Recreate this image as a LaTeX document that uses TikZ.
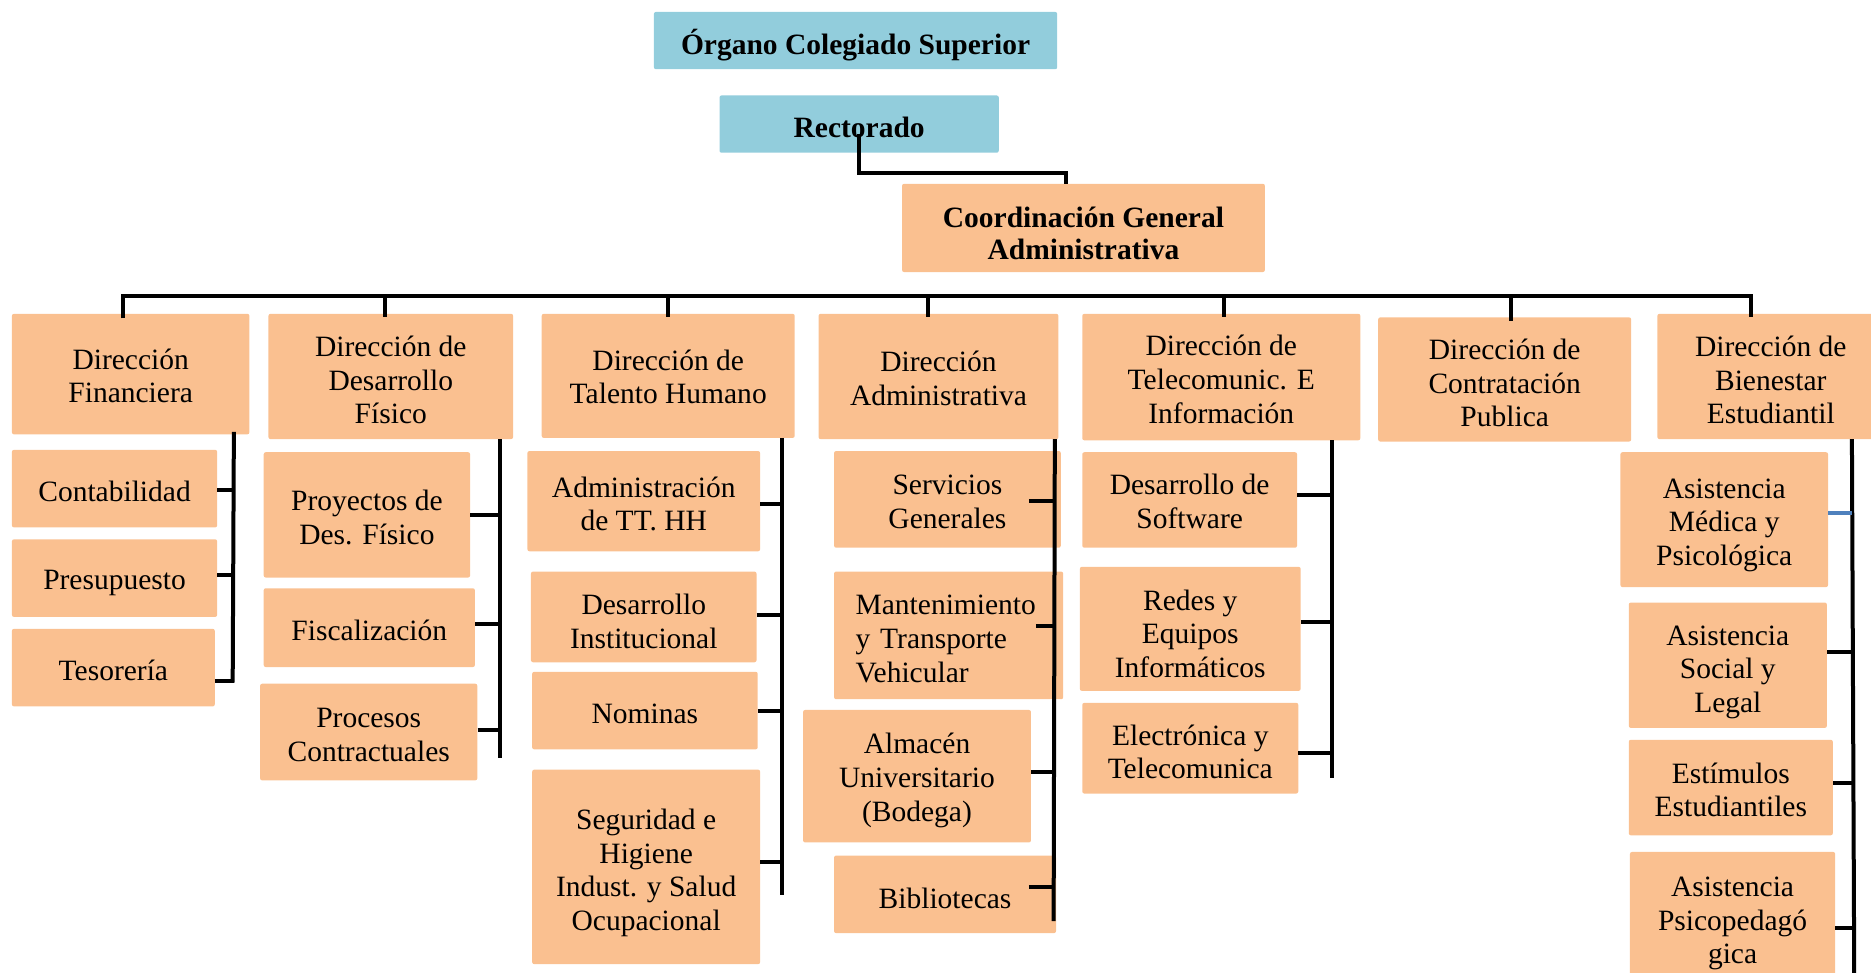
\documentclass[tikz,border=0pt]{standalone}
\usepackage{fontspec}
\setmainfont{Liberation Serif}
\definecolor{boxorange}{HTML}{FAC090}
\definecolor{boxblue}{HTML}{92CDDC}
\definecolor{linkblue}{HTML}{4F81BD}
\newdimen\unitpx \unitpx=1.1932pt
\tikzset{
  unitbox/.style={rectangle, rounded corners=2pt, inner sep=0pt},
  orangebox/.style={unitbox, fill=boxorange},
  bluebox/.style={unitbox, fill=boxblue},
  boxtext/.style={inner sep=0pt, align=center, text=black,
    font=\fontsize{29.5}{33.6}\selectfont},
  boldtext/.style={boxtext, font=\fontsize{29.5}{32.5}\selectfont\bfseries},
  conn/.style={line width=4pt, draw=black},
}
% box from its corners, with its text lowered by dy:
% [text options]{name}{x1}{y1}{x2}{y2}{text}{dy}
\newcommand\obox[8][]{%
  \node[orangebox, minimum width={(#5-#3)*\unitpx}, minimum height={(#6-#4)*\unitpx}]
    (#2) at ({(#3+#5)/2},{(#4+#6)/2}) {};
  \node[boxtext, #1] (#2-t) at ([yshift={-(#8)*\unitpx}]#2.center) {#7};}
% tick from a box to its spine: [style]{node}{dy}{dx}{spine}
\newcommand\tick[5][]{%
  \coordinate (tk) at ([xshift={(#4)*\unitpx}, yshift={-(#3)*\unitpx}]#2.east);
  \draw[conn,#1] (tk) -- (tk -| #5);}

\begin{document}
\begin{tikzpicture}[x=1.1932pt, y=-1.1932pt]
\useasboundingbox (0,0) rectangle (1568,815);

% top levels
\node[bluebox, minimum width={338*\unitpx}, minimum height={48*\unitpx}] (org) at (717,34) {};
\node[boldtext] (org-t) at (717,38) {Órgano Colegiado Superior};
\node[bluebox, minimum width={234*\unitpx}, minimum height={48*\unitpx}] (rect) at (720,104) {};
\node[boldtext] (rect-t) at (720,107) {Rectorado};
\obox[boldtext]{coord}{756}{154}{1060}{228}{Coordinación General\\Administrativa}{4.5}

% directions
\obox{fin}{10}{263}{209}{364}{Dirección\\Financiera}{1.5}
\obox{des}{225}{263}{430}{368}{Dirección de\\Desarrollo\\Físico}{3}
\obox{tal}{454}{263}{666}{367}{Dirección de\\Talento Humano}{1}
\obox{adm}{686}{263}{887}{368}{Dirección\\Administrativa}{1.5}
\obox{tel}{907}{263}{1140}{369}{Dirección de\\Telecomunic. E\\Información}{2}
\obox{con}{1155}{266}{1367}{370}{Dirección de\\Contratación\\Publica}{3}
\obox{bie}{1389}{263}{1579}{368}{Dirección de\\Bienestar\\Estudiantil}{3}

% units of each direction
\obox{cont}{10}{377}{182}{442}{Contabilidad}{2}
\obox{pres}{10}{452}{182}{517}{Presupuesto}{4}
\obox{teso}{10}{527}{180}{592}{Tesorería}{2}

\obox{proy}{221}{379}{394}{484}{Proyectos de\\Des. Físico}{2}
\obox{fisc}{221}{493}{398}{559}{Fiscalización}{2}
\obox{proc}{218}{573}{400}{654}{Procesos\\Contractuales}{2.5}

\obox{admtt}{442}{378}{637}{462}{Administración\\de TT. HH}{2.5}
\obox{desin}{445}{479}{634}{555}{Desarrollo\\Institucional}{4}
\obox{nom}{446}{563}{635}{628}{Nominas}{3}
\obox{seg}{446}{645}{637}{808}{Seguridad e\\Higiene\\Indust. y Salud\\Ocupacional}{5}

\obox{serv}{699}{378}{889}{459}{Servicios\\Generales}{2}
\obox[align=left, text width=186pt]{mant}{699}{479}{891}{586}{Mantenimiento\\y Transporte\\Vehicular}{3}
\obox{alm}{673}{595}{864}{706}{Almacén\\Universitario\\(Bodega)}{3.5}
\obox{bib}{699}{717}{885}{782}{Bibliotecas}{3}

\obox{soft}{907}{379}{1087}{459}{Desarrollo de\\Software}{1}
\obox{redes}{905}{475}{1090}{579}{Redes y\\Equipos\\Informáticos}{4}
\obox{elec}{907}{589}{1088}{665}{Electrónica y\\Telecomunica}{3}

\obox{med}{1358}{379}{1532}{492}{Asistencia\\Médica y\\Psicológica}{4.5}
\obox{soc}{1365}{505}{1531}{610}{Asistencia\\Social y\\Legal}{6}
\obox{est}{1365}{620}{1536}{700}{Estímulos\\Estudiantiles}{2}
\obox{psi}{1366}{714}{1538}{826}{Asistencia\\Psicopedagó\\gica}{4}

% Rectorado to Coordinación
\coordinate (elb) at (893,145);
\draw[conn] ([yshift={-8*\unitpx}]rect.center) |- (elb) -- (elb |- coord.north);

% bus to the directions
\coordinate (dFin) at (103,248);
\coordinate (dDes) at (323,248);
\coordinate (dTal) at (560,248);
\coordinate (dAdm) at (778,248);
\coordinate (dTel) at (1026,248);
\coordinate (dCon) at (1266,248);
\coordinate (dBie) at (1467,248);
\draw[conn] ([yshift={-4*\unitpx}]dFin |- fin.north) -- (dFin) -- (dBie) -- ([yshift={-3*\unitpx}]dBie |- bie.north);
\foreach \d/\n in {dDes/des, dTal/tal, dAdm/adm, dTel/tel, dCon/con}
  \draw[conn] (\d) -- ([yshift={-3*\unitpx}]\d |- \n.north);

% spines
\coordinate (spF) at (196,362);  \coordinate (spFb) at (195,572);
\coordinate (spD) at (419,368);  \coordinate (spDb) at (419,635);
\coordinate (spT) at (655,367);  \coordinate (spTb) at (655,750);
\coordinate (spA) at (884,368);  \coordinate (spAb) at (883,772);
\coordinate (spL) at (1116,369); \coordinate (spLb) at (1116,652);
\coordinate (spB) at (1552,368); \coordinate (spBb) at (1554,830);
\foreach \a/\b in {spF/spFb, spD/spDb, spT/spTb, spA/spAb, spL/spLb, spB/spBb}
  \draw[conn] (\a) -- (\b);

% ticks
\tick{cont}{1.5}{0}{spF}
\tick{pres}{-2.5}{0}{spF}
\tick{teso}{11.5}{0}{spF}
\tick{proy}{0.5}{0}{spD}
\tick{fisc}{-3}{0}{spD}
\tick{proc}{-1.5}{0}{spD}
\tick{admtt}{2}{0}{spT}
\tick{desin}{-2}{0}{spT}
\tick{nom}{0.5}{0}{spT}
\tick{seg}{-4.5}{0}{spT}
\tick{serv}{1.5}{-27}{spA}
\tick{mant}{-7.5}{-23}{spA}
\tick{alm}{-3.5}{0}{spA}
\tick{bib}{-6.5}{-23}{spA}
\tick{soft}{-4}{0}{spL}
\tick{redes}{-6}{0}{spL}
\tick{elec}{4}{0}{spL}
\tick[draw=linkblue]{med}{-5.5}{0}{spB}
\tick{soc}{-11.5}{0}{spB}
\tick{est}{-4}{0}{spB}
\tick{psi}{8}{0}{spB}
\end{tikzpicture}
\end{document}
